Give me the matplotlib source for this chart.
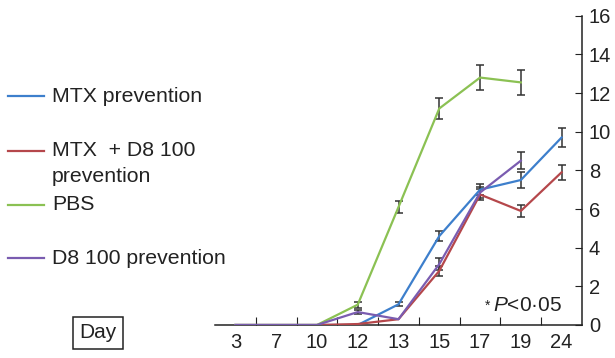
import numpy as np
import matplotlib
matplotlib.use('Agg')
from matplotlib import pyplot as plt
from matplotlib.lines import Line2D

plt.rcParams['font.family'] = ['Liberation Sans', 'DejaVu Sans']
plt.rcParams['mathtext.fontset'] = 'custom'
plt.rcParams['mathtext.rm'] = 'Liberation Sans'
plt.rcParams['mathtext.it'] = 'Liberation Sans:italic'

# 数据
days = ['3', '7', '10', '12', '13', '15', '17', '19', '24']
mtx = [0, 0, 0, 0, 1.07, 4.6, 7.0, 7.5, 9.7]
mtx_err = [0, 0, 0, 0, 0.1, 0.25, 0.3, 0.4, 0.47]
mtx_d8 = [0, 0, 0, 0.05, 0.3, 2.8, 6.75, 5.9, 7.9]
mtx_d8_err = [0, 0, 0, 0, 0, 0.25, 0.3, 0.3, 0.4]
pbs = [0, 0, 0, 1.05, 6.1, 11.2, 12.8, 12.55, np.nan]
pbs_err = [0, 0, 0, 0.15, 0.3, 0.55, 0.65, 0.65, 0]
d8 = [0, 0, 0, 0.67, 0.3, 3.15, 6.85, 8.5, np.nan]
d8_err = [0, 0, 0, 0.1, 0, 0.3, 0.3, 0.45, 0]

labels = ['MTX prevention', 'MTX  + D8 100\nprevention', 'PBS', 'D8 100 prevention']
colors = ['#3d7fcc', '#b5474b', '#8bc153', '#7a5cb0']
series = [(mtx, mtx_err), (mtx_d8, mtx_d8_err), (pbs, pbs_err), (d8, d8_err)]

fs = 14.5
fig = plt.figure(figsize=(6.15, 3.58), dpi=100)
ax = fig.add_axes([215/615, 1-325/358, (582-215)/615, (325-15.7)/358])

x = np.arange(len(days))
for (y, e), c in zip(series, colors):
    y = np.array(y, dtype=float)
    e = np.array(e, dtype=float)
    ax.plot(x, y, color=c, lw=1.6, zorder=3)
    m = (e > 0) & ~np.isnan(y)
    ax.errorbar(x[m], y[m], yerr=e[m], fmt='none', ecolor='#333333',
                elinewidth=1.1, capsize=3, capthick=1.1, zorder=2)

ax.set_xlim(-0.5, len(days) - 0.5)
ax.set_ylim(0, 16)
ax.spines['top'].set_visible(False)
ax.spines['left'].set_visible(False)
ax.yaxis.tick_right()
ax.set_yticks(range(0, 17, 2))
ax.tick_params(axis='y', direction='in', length=5, labelsize=fs, pad=5, colors='#222222')
ax.set_xticks(np.arange(0.5, len(days) - 1, 1.0))
ax.set_xticklabels([])
ax.tick_params(axis='x', direction='in', length=6, colors='#222222')
ax.set_xticks(x, minor=True)
ax.set_xticklabels(days, minor=True)
ax.tick_params(axis='x', which='minor', length=0, labelsize=fs, pad=6, colors='#222222')
for s in ax.spines.values():
    s.set_linewidth(1.1)
    s.set_color('#222222')

# *P<0·05
ax.text(0.9455, 0.045, r'$\it{P}$<0·05', transform=ax.transAxes,
        ha='right', va='baseline', fontsize=15, color='#222222')
ax.text(0.743, 0.062, '*', transform=ax.transAxes,
        ha='center', va='center', fontsize=10, color='#222222')

# 图例
leg_y = [96, 151, 205, 258]
for ly, lab, c in zip(leg_y, labels, colors):
    fy = 1 - ly / 358
    fig.add_artist(Line2D([8/615, 44/615], [fy, fy], color=c, lw=1.6))
    for i, part in enumerate(lab.split('\n')):
        fig.text(52/615, fy - i * 26/358, part, ha='left', va='center',
                 fontsize=15.3, color='#222222')

fig.text(98/615, 1-333/358, 'Day', ha='center', va='center', fontsize=15, color='#222222',
         bbox=dict(boxstyle='square,pad=0.3', fc='white', ec='#222222', lw=1.1))

plt.savefig('out.png', dpi=100)
